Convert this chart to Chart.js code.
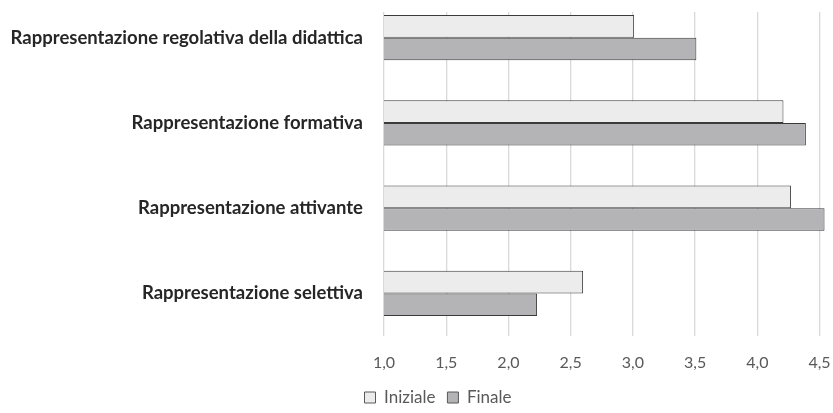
<!DOCTYPE html>
<html>
<head>
<meta charset="utf-8">
<script src="https://cdn.jsdelivr.net/npm/chart.js@4.4.0/dist/chart.umd.min.js"></script>
<style>
  html, body { margin: 0; padding: 0; background: #fff; overflow: hidden; }
  #chart { position: absolute; left: 0; top: -5px; display: block; }
</style>
</head>
<body>
<canvas id="chart" width="833" height="421"></canvas>
<script>
// dati
const categorie = [
  'Rappresentazione regolativa della didattica',
  'Rappresentazione formativa',
  'Rappresentazione attivante',
  'Rappresentazione selettiva'
];
const iniziale = [3.01, 4.21, 4.27, 2.60];
const finale = [3.51, 4.39, 4.54, 2.23];
const tickValori = [1.0, 1.5, 2.0, 2.5, 3.0, 3.5, 4.0, 4.5];

const ctx = document.getElementById('chart').getContext('2d');

// la griglia nell'originale parte un po' sotto il bordo
const tagliaGriglia = {
  id: 'tagliaGriglia',
  beforeDatasetsDraw(chart) {
    const a = chart.chartArea;
    chart.ctx.save();
    chart.ctx.fillStyle = '#fff';
    chart.ctx.fillRect(a.left - 2, 0, a.right - a.left + 4, 17);
    chart.ctx.restore();
  }
};

// la legenda originale è un po' spostata a destra
const spostaLegenda = {
  id: 'spostaLegenda',
  afterLayout(chart) {
    chart.legend.left += 22;
    chart.legend.right += 22;
  }
};

new Chart(ctx, {
  type: 'bar',
  data: {
    labels: categorie,
    datasets: [
      {
        label: 'Iniziale',
        data: iniziale,
        backgroundColor: '#ececec',
        borderColor: '#3a3a3a',
        borderWidth: 1,
        borderSkipped: 'start'
      },
      {
        label: 'Finale',
        data: finale,
        backgroundColor: '#b4b4b7',
        borderColor: '#3a3a3a',
        borderWidth: 1,
        borderSkipped: 'start'
      }
    ]
  },
  options: {
    indexAxis: 'y',
    responsive: false,
    animation: false,
    layout: { padding: { left: 0, right: 1, top: 0, bottom: 0 } },
    datasets: {
      bar: { categoryPercentage: 0.53, barPercentage: 1.0 }
    },
    scales: {
      x: {
        min: 1.0,
        max: 4.6,
        afterBuildTicks: axis => {
          axis.ticks = tickValori.map(v => ({ value: v }));
        },
        afterFit: axis => {
          axis.height = 41;
          axis.paddingLeft = 0;
          axis.paddingRight = 0;
        },
        grid: { color: '#d9d9d9', lineWidth: 1.3, drawTicks: false },
        border: { display: false },
        ticks: {
          color: '#595959',
          font: { family: 'Lato', size: 16 },
          padding: 17,
          maxRotation: 0,
          callback: v => Number(v).toFixed(1).replace('.', ',')
        }
      },
      y: {
        afterFit: axis => {
          axis.width = 384;
          axis.paddingTop = 0;
          axis.paddingBottom = 0;
        },
        grid: { display: false, drawTicks: false },
        border: { display: false },
        ticks: {
          color: '#262626',
          font: { family: 'Lato', size: 18.5, weight: 'bold' },
          padding: 21
        }
      }
    },
    plugins: {
      legend: {
        position: 'bottom',
        labels: {
          color: '#595959',
          font: { family: 'Lato', size: 17 },
          boxWidth: 11,
          boxHeight: 11,
          padding: 12,
          generateLabels: chart => chart.data.datasets.map((ds, i) => ({
            text: ds.label,
            fillStyle: ds.backgroundColor,
            strokeStyle: '#595959',
            lineWidth: 1,
            datasetIndex: i,
            fontColor: '#595959'
          }))
        }
      },
      tooltip: { enabled: false }
    }
  },
  plugins: [tagliaGriglia, spostaLegenda]
});
</script>
</body>
</html>
